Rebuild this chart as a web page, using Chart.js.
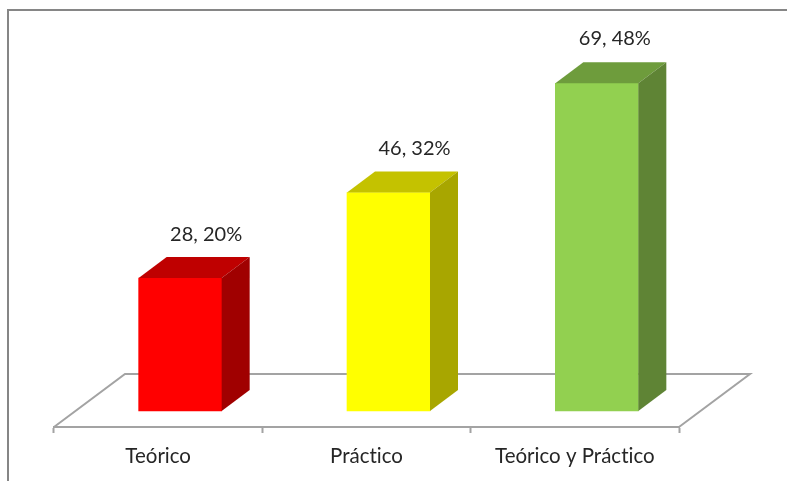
<!DOCTYPE html>
<html>
<head>
<meta charset="utf-8">
<style>html,body{margin:0;padding:0;background:#fff}canvas{display:block}</style>
<script src="https://cdn.jsdelivr.net/npm/chart.js@4"></script>
</head>
<body>
<canvas id="c" width="787" height="481"></canvas>
<script>
const categories = ["Teórico", "Práctico", "Teórico y Práctico"];
const counts = [28, 46, 69];
const percents = [20, 32, 48];
const frontColors = ["#FF0000", "#FFFF00", "#92D050"];
const topColors = ["#BF0000", "#C4C200", "#6E9C3C"];
const sideColors = ["#A00000", "#A8A600", "#5F8435"];
const labelShiftX = [26, 26, 18];
const labelShiftY = [43, 44, 45];

const GRID = "#A3A3A3", FRAME = "#868686", TEXT = "#262626";
const BAR_DX = 28, BAR_DY = 21, FLOOR_DX = 71, FLOOR_DY = 53;
const BAR_SHIFT = 22 / 208.33;
const FONT = "Lato";

const scene3d = {
  id: "scene3d",
  beforeDraw(chart) {
    const c = chart.ctx;
    c.textRendering = "optimizeSpeed";
    c.save();
    c.fillStyle = "#fff";
    c.fillRect(0, 0, chart.width, chart.height);
    c.strokeStyle = FRAME;
    c.lineWidth = 2;
    c.beginPath();
    c.moveTo(8, chart.height);
    c.lineTo(8, 10);
    c.lineTo(chart.width, 10);
    c.stroke();
    c.restore();
  },
  beforeDatasetsDraw(chart) {
    const c = chart.ctx, a = chart.chartArea;
    c.save();
    c.strokeStyle = GRID;
    c.lineWidth = 2;
    c.beginPath();
    c.moveTo(a.left, a.bottom);
    c.lineTo(a.left + FLOOR_DX, a.bottom - FLOOR_DY);
    c.lineTo(a.right + FLOOR_DX, a.bottom - FLOOR_DY);
    c.lineTo(a.right, a.bottom);
    c.stroke();
    c.restore();
  },
  afterDatasetsDraw(chart) {
    const c = chart.ctx;
    c.save();
    chart.getDatasetMeta(0).data.forEach((bar, i) => {
      const l = bar.x - bar.width / 2, r = bar.x + bar.width / 2;
      c.fillStyle = topColors[i];
      c.beginPath();
      c.moveTo(l, bar.y);
      c.lineTo(l + BAR_DX, bar.y - BAR_DY);
      c.lineTo(r + BAR_DX, bar.y - BAR_DY);
      c.lineTo(r, bar.y);
      c.closePath();
      c.fill();
      c.fillStyle = sideColors[i];
      c.beginPath();
      c.moveTo(r, bar.y);
      c.lineTo(r + BAR_DX, bar.y - BAR_DY);
      c.lineTo(r + BAR_DX, bar.base - BAR_DY);
      c.lineTo(r, bar.base);
      c.closePath();
      c.fill();
      c.fillStyle = TEXT;
      c.font = "20px " + FONT;
      c.textAlign = "center";
      c.textBaseline = "middle";
      c.fillText(counts[i] + ", " + percents[i] + "%", bar.x + labelShiftX[i], bar.y - labelShiftY[i]);
    });
    c.restore();
  }
};

new Chart(document.getElementById("c"), {
  type: "bar",
  data: {
    labels: categories,
    datasets: [{
      xAxisID: "xBars",
      data: counts.map((v, i) => ({ x: i, y: v })),
      backgroundColor: frontColors,
      borderWidth: 0,
      barThickness: 83
    }]
  },
  options: {
    responsive: false,
    animation: false,
    events: [],
    layout: { padding: { left: 54, right: 108, top: 12, bottom: 0 } },
    plugins: { legend: { display: false }, tooltip: { enabled: false }, title: { display: false } },
    scales: {
      x: {
        type: "category",
        position: "bottom",
        afterFit(s) { s.height = 54; s.paddingLeft = 0; s.paddingRight = 0; },
        offset: true,
        border: { color: GRID, width: 2 },
        grid: { drawOnChartArea: false, drawTicks: true, tickLength: 6, tickWidth: 2, color: GRID, offset: true },
        ticks: { color: TEXT, font: { family: FONT, size: 20.5 }, padding: 11.5, maxRotation: 0, autoSkip: false }
      },
      xBars: {
        type: "linear",
        axis: "x",
        position: "bottom",
        display: false,
        offset: false,
        min: -0.5 - BAR_SHIFT,
        max: categories.length - 0.5 - BAR_SHIFT
      },
      y: {
        display: false,
        min: -3.37,
        max: 84
      }
    }
  },
  plugins: [scene3d]
});
</script>
</body>
</html>
